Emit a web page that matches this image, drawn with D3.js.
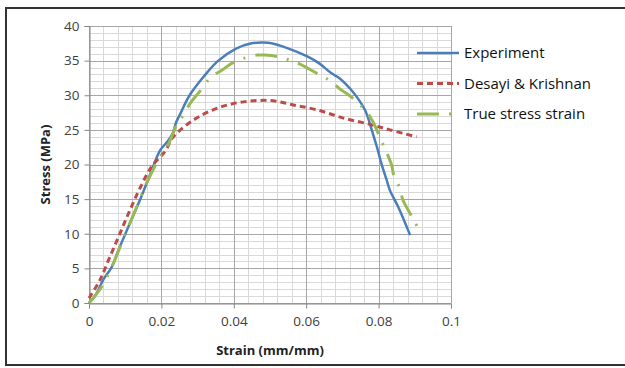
<!DOCTYPE html>
<html>
<head>
<meta charset="utf-8">
<script src="https://d3js.org/d3.v7.min.js"></script>
<style>
  body { margin: 0; background: #fff; }
  svg { display: block; font-family: 'Open Sans', sans-serif; }
</style>
</head>
<body>
<div id="chart"></div>
<script>
// data: [strain, stress]
var experiment = [
  [0, 0], [0.002, 1.3], [0.004, 3.4], [0.0063, 5.2], [0.0081, 7.6], [0.0113, 11.5],
  [0.0141, 14.9], [0.0173, 19.1], [0.0196, 22.0], [0.0218, 23.4], [0.0232, 24.6],
  [0.024, 26.0], [0.0251, 27.2], [0.0278, 30.0], [0.0317, 32.7], [0.0355, 34.9],
  [0.0405, 36.7], [0.0449, 37.5], [0.0482, 37.6], [0.0504, 37.5], [0.0548, 36.8],
  [0.0603, 35.6], [0.0636, 34.6], [0.0669, 33.2], [0.0691, 32.5], [0.0724, 30.8],
  [0.0746, 29.3], [0.0762, 27.9], [0.0773, 26.4], [0.0781, 25.0], [0.0795, 22.6],
  [0.0809, 19.9], [0.0822, 17.8], [0.0831, 16.3], [0.0854, 13.9], [0.0887, 9.8]
];
var desayi = [
  [0, 0.7], [0.003, 3.3], [0.0058, 6.7], [0.0086, 10.1], [0.0113, 13.4], [0.0141, 16.6],
  [0.0173, 19.7], [0.021, 21.9], [0.0233, 24.0], [0.0288, 26.4], [0.0343, 27.9],
  [0.0399, 28.8], [0.0454, 29.2], [0.0509, 29.2], [0.0564, 28.6], [0.0629, 27.9],
  [0.0703, 26.7], [0.0776, 25.8], [0.0831, 25.0], [0.0905, 24.0]
];
var trueStress = [
  [0, 0], [0.0035, 2.35], [0.0067, 5.7], [0.0099, 9.8], [0.0132, 13.9], [0.0159, 17.3],
  [0.0196, 21.1], [0.0218, 22.8], [0.0242, 25.7], [0.026, 27.1], [0.0279, 28.8],
  [0.0302, 30.3], [0.0339, 32.7], [0.0367, 33.6], [0.0394, 34.6], [0.0426, 35.3],
  [0.0465, 35.8], [0.0486, 35.8], [0.052, 35.6], [0.0553, 35.1], [0.0583, 34.5],
  [0.0638, 32.9], [0.0666, 32.1], [0.0693, 30.9], [0.0721, 29.9], [0.0767, 27.6],
  [0.0784, 26.2], [0.0799, 24.5], [0.0813, 22.8], [0.0836, 19.9], [0.0843, 18.2],
  [0.0859, 16.6], [0.0867, 14.9], [0.0896, 12.1], [0.0912, 10.5]
];
var seriesNames = ['Experiment', 'Desayi & Krishnan', 'True stress strain'];
var xTicks = [0, 0.02, 0.04, 0.06, 0.08, 0.1];
var yTicks = [0, 5, 10, 15, 20, 25, 30, 35, 40];

var width = 625, height = 368;
var margin = {left: 89, top: 26, right: 174, bottom: 65};

var svg = d3.select('#chart')
  .append('svg')
    .attr('width', width)
    .attr('height', height);

// outer frame
svg.append('rect')
  .attr('x', 6).attr('y', 8)
  .attr('width', 640).attr('height', 357)
  .attr('fill', 'none')
  .attr('stroke', '#333')
  .attr('stroke-width', 2);

var x = d3.scaleLinear().domain([0, 0.1]).range([margin.left, width - margin.right]);
var y = d3.scaleLinear().domain([0, 40]).range([height - margin.bottom, margin.top]);

// minor grid
var g = svg.append('g');
g.selectAll('.vminor')
  .data(d3.range(0, 0.1001, 0.004))
  .enter().append('line')
    .attr('x1', function(d) { return Math.round(x(d)) + 0.5; })
    .attr('x2', function(d) { return Math.round(x(d)) + 0.5; })
    .attr('y1', y(0)).attr('y2', y(40))
    .attr('stroke', '#d9d9d9');
g.selectAll('.hminor')
  .data(d3.range(0, 40.01, 1))
  .enter().append('line')
    .attr('y1', function(d) { return Math.round(y(d)) + 0.5; })
    .attr('y2', function(d) { return Math.round(y(d)) + 0.5; })
    .attr('x1', x(0)).attr('x2', x(0.1))
    .attr('stroke', '#d9d9d9');

// major grid
g.selectAll('.vmajor')
  .data(xTicks)
  .enter().append('line')
    .attr('x1', function(d) { return Math.round(x(d)) + 0.5; })
    .attr('x2', function(d) { return Math.round(x(d)) + 0.5; })
    .attr('y1', y(0)).attr('y2', y(40))
    .attr('stroke', '#a6a6a6');
g.selectAll('.hmajor')
  .data(yTicks)
  .enter().append('line')
    .attr('y1', function(d) { return Math.round(y(d)) + 0.5; })
    .attr('y2', function(d) { return Math.round(y(d)) + 0.5; })
    .attr('x1', x(0)).attr('x2', x(0.1))
    .attr('stroke', '#a6a6a6');

// axes
var xAxis = svg.append('g')
  .attr('transform', 'translate(0,' + (Math.round(y(0)) + 0.5) + ')')
  .call(d3.axisBottom(x).tickValues(xTicks).tickSize(5).tickPadding(8)
    .tickFormat(function(d) { return d === 0 ? '0' : d3.format('.2~f')(d); }));
var yAxis = svg.append('g')
  .attr('transform', 'translate(' + (Math.round(x(0)) + 0.5) + ',0)')
  .call(d3.axisLeft(y).tickValues(yTicks).tickSize(5).tickPadding(5));
[xAxis, yAxis].forEach(function(a) {
  a.select('.domain').attr('stroke', '#868686');
  a.selectAll('.tick line').attr('stroke', '#868686');
  a.selectAll('text')
    .attr('fill', '#404040')
    .style('font-size', '13.5px')
    .style('font-family', "'Open Sans', sans-serif");
});

// lines
var line = d3.line()
  .x(function(d) { return x(d[0]); })
  .y(function(d) { return y(d[1]); })
  .curve(d3.curveCatmullRom);

var styles = [
  {data: experiment, color: '#4a7ebb', dash: null, w: 2.5},
  {data: desayi, color: '#be4b48', dash: '6,4', w: 3},
  {data: trueStress, color: '#98b954', dash: '22,10,2,10', w: 3}
];

svg.selectAll('.series')
  .data(styles)
  .enter().append('path')
    .attr('d', function(d) { return line(d.data); })
    .attr('fill', 'none')
    .attr('stroke', function(d) { return d.color; })
    .attr('stroke-width', function(d) { return d.w; })
    .attr('stroke-dasharray', function(d) { return d.dash; });

// legend
var legend = svg.selectAll('.legend')
  .data(styles)
  .enter().append('g')
    .attr('transform', function(d, i) { return 'translate(417,' + (53 + i * 30.5) + ')'; });
legend.append('line')
  .attr('x1', 0).attr('x2', 42)
  .attr('stroke', function(d) { return d.color; })
  .attr('stroke-width', function(d) { return d.w; })
  .attr('stroke-dasharray', function(d) { return d.dash; });
legend.append('text')
  .attr('x', 47).attr('dy', '0.35em')
  .style('font-size', '15px')
  .attr('fill', '#111')
  .text(function(d, i) { return seriesNames[i]; });

// axis titles
svg.append('text')
  .attr('x', (x(0) + x(0.1)) / 2)
  .attr('y', 355)
  .attr('text-anchor', 'middle')
  .style('font-size', '13px')
  .style('font-weight', 'bold')
  .attr('fill', '#222')
  .text('Strain (mm/mm)');
svg.append('text')
  .attr('transform', 'translate(50,' + ((y(0) + y(40)) / 2) + ')rotate(-90)')
  .attr('text-anchor', 'middle')
  .style('font-size', '13px')
  .style('font-weight', 'bold')
  .attr('fill', '#222')
  .text('Stress (MPa)');
</script>
</body>
</html>
